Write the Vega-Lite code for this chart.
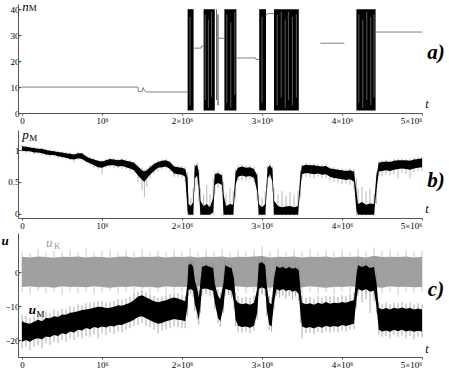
{
"$schema":"https://vega.github.io/schema/vega-lite/v6.json",
"padding":{"left":0,"top":0,"right":0,"bottom":0},
"spacing":3,
"config":{"view":{"stroke":null},"axis":{"labelFont":"Liberation Serif","labelFontSize":9,"labelColor":"#000","domainColor":"#555","tickColor":"#555","grid":false,"labelOverlap":false},
"axisX":{"title":null,"labelExpr":"datum.value==0?'0':(datum.value==1?'10⁶':datum.value+'×10⁶')","tickSize":2,"labelPadding":1,"labelBaseline":"top"},
"axisY":{"title":null,"tickSize":-3,"labelPadding":2,"minExtent":18,"maxExtent":18}},
"datasets":{
"nblock":[
{"t0":2.07,"t1":2.145,"lo":1,"hi":40},
{"t0":2.27,"t1":2.41,"lo":1,"hi":40},
{"t0":2.43,"t1":2.438,"lo":5,"hi":40},{"t0":2.445,"t1":2.455,"lo":3,"hi":38},
{"t0":2.53,"t1":2.68,"lo":1,"hi":40},
{"t0":2.965,"t1":3.05,"lo":1,"hi":40},
{"t0":3.15,"t1":3.46,"lo":1,"hi":40},
{"t0":4.18,"t1":4.42,"lo":1,"hi":40}
],
"nslit":[
{"t":2.1,"lo":3,"hi":37},{"t":2.29,"lo":5,"hi":38},{"t":2.33,"lo":2,"hi":36},{"t":2.37,"lo":6,"hi":39},{"t":2.56,"lo":4,"hi":38},{"t":2.61,"lo":2,"hi":35},{"t":2.66,"lo":7,"hi":39},{"t":3.0,"lo":4,"hi":37},{"t":3.19,"lo":3,"hi":38},{"t":3.24,"lo":6,"hi":39},{"t":3.29,"lo":2,"hi":36},{"t":3.33,"lo":5,"hi":39},{"t":3.38,"lo":3,"hi":37},{"t":3.43,"lo":6,"hi":38},{"t":4.21,"lo":4,"hi":38},{"t":4.26,"lo":2,"hi":36},{"t":4.31,"lo":5,"hi":39},{"t":4.36,"lo":3,"hi":37},{"t":4.4,"lo":6,"hi":38}
],
"nline":[
{"t":0,"n":10,"seg":1},{"t":1.45,"n":10,"seg":1},{"t":1.455,"n":8.3,"seg":1},{"t":1.5,"n":8.3,"seg":1},{"t":1.515,"n":9.8,"seg":1},{"t":1.53,"n":8.6,"seg":1},{"t":1.56,"n":8.1,"seg":1},{"t":2.07,"n":8.1,"seg":1},
{"t":2.145,"n":25,"seg":2},{"t":2.24,"n":25,"seg":2},{"t":2.245,"n":25.8,"seg":2},{"t":2.27,"n":25.8,"seg":2},
{"t":2.455,"n":28.8,"seg":3},{"t":2.53,"n":28.8,"seg":3},
{"t":2.68,"n":21.2,"seg":4},{"t":2.92,"n":21.2,"seg":4},{"t":2.925,"n":20.6,"seg":4},{"t":2.965,"n":20.6,"seg":4},
{"t":3.05,"n":37.5,"seg":5},{"t":3.07,"n":38.3,"seg":5},{"t":3.15,"n":38.3,"seg":5},
{"t":3.73,"n":26.9,"seg":6},{"t":4.03,"n":26.9,"seg":6},
{"t":4.42,"n":31.2,"seg":7},{"t":5.0,"n":31.2,"seg":7}
],
"pb":[
{"t":0,"lo":0.99,"hi":1.06,"glo":0.97,"ghi":1.08},{"t":0.05,"lo":0.98,"hi":1.05,"glo":0.95,"ghi":1.07},{"t":0.1,"lo":0.98,"hi":1.04,"glo":0.96,"ghi":1.06},{"t":0.15,"lo":0.96,"hi":1.03,"glo":0.93,"ghi":1.05},{"t":0.2,"lo":0.96,"hi":1.02,"glo":0.94,"ghi":1.04},{"t":0.25,"lo":0.95,"hi":1.02,"glo":0.92,"ghi":1.03},{"t":0.3,"lo":0.93,"hi":1.0,"glo":0.91,"ghi":1.02},{"t":0.35,"lo":0.92,"hi":0.99,"glo":0.89,"ghi":1.01},{"t":0.4,"lo":0.92,"hi":0.98,"glo":0.9,"ghi":1.0},{"t":0.45,"lo":0.9,"hi":0.97,"glo":0.87,"ghi":0.99},{"t":0.5,"lo":0.89,"hi":0.96,"glo":0.86,"ghi":0.98},{"t":0.55,"lo":0.88,"hi":0.95,"glo":0.86,"ghi":0.97},{"t":0.6,"lo":0.86,"hi":0.94,"glo":0.84,"ghi":0.96},{"t":0.65,"lo":0.85,"hi":0.93,"glo":0.81,"ghi":0.95},{"t":0.7,"lo":0.87,"hi":0.95,"glo":0.84,"ghi":0.97},{"t":0.75,"lo":0.86,"hi":0.95,"glo":0.83,"ghi":0.96},{"t":0.8,"lo":0.82,"hi":0.9,"glo":0.8,"ghi":0.92},{"t":0.85,"lo":0.79,"hi":0.87,"glo":0.76,"ghi":0.89},{"t":0.9,"lo":0.76,"hi":0.85,"glo":0.72,"ghi":0.87},{"t":0.95,"lo":0.73,"hi":0.83,"glo":0.7,"ghi":0.85},{"t":1.0,"lo":0.72,"hi":0.82,"glo":0.62,"ghi":0.84},{"t":1.05,"lo":0.75,"hi":0.84,"glo":0.72,"ghi":0.86},{"t":1.1,"lo":0.76,"hi":0.86,"glo":0.73,"ghi":0.88},{"t":1.15,"lo":0.76,"hi":0.85,"glo":0.72,"ghi":0.87},{"t":1.2,"lo":0.74,"hi":0.84,"glo":0.71,"ghi":0.86},{"t":1.25,"lo":0.75,"hi":0.85,"glo":0.7,"ghi":0.87},{"t":1.3,"lo":0.73,"hi":0.83,"glo":0.7,"ghi":0.85},{"t":1.35,"lo":0.71,"hi":0.82,"glo":0.67,"ghi":0.84},{"t":1.4,"lo":0.68,"hi":0.8,"glo":0.64,"ghi":0.82},{"t":1.45,"lo":0.6,"hi":0.74,"glo":0.5,"ghi":0.77},{"t":1.5,"lo":0.53,"hi":0.68,"glo":0.37,"ghi":0.72},{"t":1.53,"lo":0.5,"hi":0.66,"glo":0.26,"ghi":0.7},{"t":1.56,"lo":0.55,"hi":0.68,"glo":0.42,"ghi":0.72},{"t":1.6,"lo":0.61,"hi":0.73,"glo":0.55,"ghi":0.76},{"t":1.65,"lo":0.67,"hi":0.78,"glo":0.62,"ghi":0.8},{"t":1.7,"lo":0.72,"hi":0.81,"glo":0.66,"ghi":0.84},{"t":1.75,"lo":0.73,"hi":0.83,"glo":0.7,"ghi":0.85},{"t":1.8,"lo":0.74,"hi":0.84,"glo":0.71,"ghi":0.86},{"t":1.85,"lo":0.7,"hi":0.81,"glo":0.66,"ghi":0.83},{"t":1.9,"lo":0.63,"hi":0.74,"glo":0.58,"ghi":0.77},{"t":1.95,"lo":0.62,"hi":0.73,"glo":0.57,"ghi":0.76},{"t":2.0,"lo":0.61,"hi":0.72,"glo":0.56,"ghi":0.75},{"t":2.04,"lo":0.58,"hi":0.7,"glo":0.5,"ghi":0.73},
{"t":2.07,"lo":0.05,"hi":0.55,"glo":0.0,"ghi":0.65},{"t":2.08,"lo":-0.02,"hi":0.15,"glo":-0.03,"ghi":0.3},{"t":2.11,"lo":-0.02,"hi":0.12,"glo":-0.03,"ghi":0.25},{"t":2.14,"lo":-0.02,"hi":0.18,"glo":-0.03,"ghi":0.4},{"t":2.16,"lo":0.55,"hi":0.74,"glo":0.35,"ghi":0.78},{"t":2.19,"lo":0.6,"hi":0.77,"glo":0.45,"ghi":0.8},{"t":2.21,"lo":0.4,"hi":0.65,"glo":0.2,"ghi":0.7},{"t":2.23,"lo":-0.02,"hi":0.2,"glo":-0.03,"ghi":0.4},{"t":2.27,"lo":-0.02,"hi":0.12,"glo":-0.03,"ghi":0.3},{"t":2.31,"lo":-0.02,"hi":0.15,"glo":-0.03,"ghi":0.45},{"t":2.35,"lo":-0.02,"hi":0.1,"glo":-0.03,"ghi":0.3},{"t":2.39,"lo":0.02,"hi":0.25,"glo":-0.03,"ghi":0.55},{"t":2.41,"lo":0.45,"hi":0.62,"glo":0.3,"ghi":0.66},{"t":2.45,"lo":0.48,"hi":0.64,"glo":0.4,"ghi":0.67},{"t":2.5,"lo":0.45,"hi":0.6,"glo":0.35,"ghi":0.64},{"t":2.52,"lo":-0.02,"hi":0.3,"glo":-0.03,"ghi":0.5},{"t":2.55,"lo":-0.02,"hi":0.12,"glo":-0.03,"ghi":0.3},{"t":2.6,"lo":-0.02,"hi":0.15,"glo":-0.03,"ghi":0.4},{"t":2.64,"lo":-0.02,"hi":0.14,"glo":-0.03,"ghi":0.35},{"t":2.67,"lo":0.45,"hi":0.65,"glo":0.25,"ghi":0.7},{"t":2.7,"lo":0.58,"hi":0.72,"glo":0.52,"ghi":0.76},{"t":2.75,"lo":0.6,"hi":0.74,"glo":0.53,"ghi":0.77},{"t":2.8,"lo":0.58,"hi":0.72,"glo":0.52,"ghi":0.75},{"t":2.85,"lo":0.59,"hi":0.73,"glo":0.54,"ghi":0.76},{"t":2.9,"lo":0.56,"hi":0.7,"glo":0.5,"ghi":0.73},{"t":2.94,"lo":0.35,"hi":0.6,"glo":0.2,"ghi":0.65},{"t":2.96,"lo":-0.02,"hi":0.15,"glo":-0.03,"ghi":0.3},{"t":3.0,"lo":-0.02,"hi":0.1,"glo":-0.03,"ghi":0.25},{"t":3.04,"lo":-0.02,"hi":0.15,"glo":-0.03,"ghi":0.35},{"t":3.07,"lo":0.55,"hi":0.72,"glo":0.4,"ghi":0.76},{"t":3.1,"lo":0.62,"hi":0.76,"glo":0.56,"ghi":0.79},{"t":3.13,"lo":0.5,"hi":0.7,"glo":0.35,"ghi":0.74},{"t":3.15,"lo":-0.02,"hi":0.2,"glo":-0.03,"ghi":0.4},{"t":3.2,"lo":-0.02,"hi":0.12,"glo":-0.03,"ghi":0.3},{"t":3.25,"lo":-0.02,"hi":0.1,"glo":-0.03,"ghi":0.35},{"t":3.3,"lo":-0.02,"hi":0.11,"glo":-0.03,"ghi":0.28},{"t":3.35,"lo":-0.02,"hi":0.12,"glo":-0.03,"ghi":0.34},{"t":3.4,"lo":-0.02,"hi":0.1,"glo":-0.03,"ghi":0.3},{"t":3.45,"lo":-0.02,"hi":0.12,"glo":-0.03,"ghi":0.36},{"t":3.48,"lo":0.4,"hi":0.62,"glo":0.25,"ghi":0.68},{"t":3.5,"lo":0.62,"hi":0.75,"glo":0.55,"ghi":0.78},{"t":3.55,"lo":0.64,"hi":0.77,"glo":0.58,"ghi":0.8},{"t":3.6,"lo":0.63,"hi":0.76,"glo":0.57,"ghi":0.79},{"t":3.65,"lo":0.62,"hi":0.76,"glo":0.55,"ghi":0.79},{"t":3.7,"lo":0.63,"hi":0.75,"glo":0.58,"ghi":0.78},{"t":3.75,"lo":0.61,"hi":0.74,"glo":0.55,"ghi":0.77},{"t":3.8,"lo":0.62,"hi":0.75,"glo":0.56,"ghi":0.78},{"t":3.85,"lo":0.58,"hi":0.71,"glo":0.52,"ghi":0.74},{"t":3.9,"lo":0.56,"hi":0.7,"glo":0.5,"ghi":0.73},{"t":3.95,"lo":0.55,"hi":0.69,"glo":0.48,"ghi":0.72},{"t":4.0,"lo":0.54,"hi":0.68,"glo":0.46,"ghi":0.71},{"t":4.05,"lo":0.53,"hi":0.67,"glo":0.47,"ghi":0.7},{"t":4.1,"lo":0.54,"hi":0.68,"glo":0.45,"ghi":0.71},{"t":4.15,"lo":0.5,"hi":0.66,"glo":0.38,"ghi":0.7},{"t":4.18,"lo":0.05,"hi":0.35,"glo":-0.03,"ghi":0.55},{"t":4.2,"lo":-0.02,"hi":0.15,"glo":-0.03,"ghi":0.4},{"t":4.25,"lo":-0.02,"hi":0.18,"glo":-0.03,"ghi":0.42},{"t":4.3,"lo":-0.02,"hi":0.14,"glo":-0.03,"ghi":0.35},{"t":4.35,"lo":-0.02,"hi":0.16,"glo":-0.03,"ghi":0.4},{"t":4.4,"lo":-0.02,"hi":0.15,"glo":-0.03,"ghi":0.3},{"t":4.43,"lo":0.35,"hi":0.6,"glo":0.15,"ghi":0.65},{"t":4.46,"lo":0.66,"hi":0.8,"glo":0.58,"ghi":0.83},{"t":4.5,"lo":0.67,"hi":0.81,"glo":0.6,"ghi":0.84},{"t":4.55,"lo":0.68,"hi":0.82,"glo":0.62,"ghi":0.85},{"t":4.6,"lo":0.67,"hi":0.81,"glo":0.6,"ghi":0.84},{"t":4.65,"lo":0.69,"hi":0.83,"glo":0.62,"ghi":0.86},{"t":4.7,"lo":0.7,"hi":0.84,"glo":0.55,"ghi":0.87},{"t":4.75,"lo":0.71,"hi":0.84,"glo":0.64,"ghi":0.87},{"t":4.8,"lo":0.7,"hi":0.84,"glo":0.62,"ghi":0.86},{"t":4.85,"lo":0.69,"hi":0.83,"glo":0.55,"ghi":0.86},{"t":4.9,"lo":0.71,"hi":0.85,"glo":0.65,"ghi":0.88},{"t":4.95,"lo":0.72,"hi":0.86,"glo":0.66,"ghi":0.89},{"t":5.0,"lo":0.73,"hi":0.87,"glo":0.67,"ghi":0.89}
],
"uk":[
{"t":0,"lo":-4.4,"hi":4.5,"glo":-5.8,"ghi":6.0},{"t":0.1,"lo":-4.2,"hi":4.3,"glo":-6.5,"ghi":5.6},{"t":0.2,"lo":-4.5,"hi":4.6,"glo":-5.6,"ghi":6.8},{"t":0.3,"lo":-4.3,"hi":4.4,"glo":-6.2,"ghi":5.8},{"t":0.4,"lo":-4.6,"hi":4.2,"glo":-5.9,"ghi":6.3},{"t":0.5,"lo":-4.2,"hi":4.5,"glo":-6.8,"ghi":5.7},{"t":0.6,"lo":-4.4,"hi":4.4,"glo":-5.7,"ghi":6.5},{"t":0.7,"lo":-4.3,"hi":4.6,"glo":-6.3,"ghi":5.9},{"t":0.8,"lo":-4.5,"hi":4.3,"glo":-5.8,"ghi":6.9},{"t":0.9,"lo":-4.2,"hi":4.5,"glo":-6.6,"ghi":5.8},{"t":1.0,"lo":-4.4,"hi":4.4,"glo":-6.0,"ghi":6.2},{"t":1.1,"lo":-4.6,"hi":4.2,"glo":-5.6,"ghi":6.6},{"t":1.2,"lo":-4.3,"hi":4.5,"glo":-6.4,"ghi":5.7},{"t":1.3,"lo":-4.4,"hi":4.6,"glo":-5.9,"ghi":6.4},{"t":1.4,"lo":-4.2,"hi":4.3,"glo":-6.9,"ghi":6.0},{"t":1.5,"lo":-4.5,"hi":4.5,"glo":-5.7,"ghi":6.7},{"t":1.6,"lo":-4.3,"hi":4.4,"glo":-6.2,"ghi":5.8},{"t":1.7,"lo":-4.6,"hi":4.6,"glo":-5.8,"ghi":6.3},{"t":1.8,"lo":-4.2,"hi":4.3,"glo":-6.5,"ghi":5.9},{"t":1.9,"lo":-4.4,"hi":4.5,"glo":-5.9,"ghi":6.6},{"t":2.0,"lo":-4.3,"hi":4.4,"glo":-6.1,"ghi":6.1},{"t":2.1,"lo":-4.5,"hi":4.6,"glo":-5.7,"ghi":6.9},{"t":2.2,"lo":-4.2,"hi":4.3,"glo":-6.6,"ghi":5.7},{"t":2.3,"lo":-4.4,"hi":4.5,"glo":-5.8,"ghi":6.5},{"t":2.4,"lo":-4.6,"hi":4.4,"glo":-6.3,"ghi":6.0},{"t":2.5,"lo":-4.3,"hi":4.6,"glo":-5.9,"ghi":6.8},{"t":2.6,"lo":-4.4,"hi":4.3,"glo":-6.7,"ghi":5.8},{"t":2.7,"lo":-4.2,"hi":4.5,"glo":-5.6,"ghi":6.4},{"t":2.8,"lo":-4.5,"hi":4.4,"glo":-6.2,"ghi":6.1},{"t":2.9,"lo":-4.3,"hi":4.6,"glo":-5.9,"ghi":6.6},{"t":3.0,"lo":-4.4,"hi":4.7,"glo":-6.4,"ghi":7.6},{"t":3.1,"lo":-4.6,"hi":4.3,"glo":-5.8,"ghi":6.0},{"t":3.2,"lo":-4.2,"hi":4.5,"glo":-6.5,"ghi":6.7},{"t":3.3,"lo":-4.4,"hi":4.4,"glo":-5.7,"ghi":5.9},{"t":3.4,"lo":-4.3,"hi":4.6,"glo":-6.1,"ghi":6.5},{"t":3.5,"lo":-4.5,"hi":4.3,"glo":-6.8,"ghi":6.0},{"t":3.6,"lo":-4.2,"hi":4.5,"glo":-5.8,"ghi":6.8},{"t":3.7,"lo":-4.4,"hi":4.4,"glo":-6.3,"ghi":5.8},{"t":3.8,"lo":-4.6,"hi":4.6,"glo":-5.9,"ghi":6.4},{"t":3.9,"lo":-4.3,"hi":4.3,"glo":-6.6,"ghi":6.1},{"t":4.0,"lo":-4.4,"hi":4.5,"glo":-5.7,"ghi":6.6},{"t":4.1,"lo":-4.2,"hi":4.4,"glo":-6.2,"ghi":5.9},{"t":4.2,"lo":-4.5,"hi":4.6,"glo":-5.9,"ghi":6.7},{"t":4.3,"lo":-4.3,"hi":4.3,"glo":-6.5,"ghi":6.0},{"t":4.4,"lo":-4.4,"hi":4.8,"glo":-5.8,"ghi":7.2},{"t":4.5,"lo":-4.6,"hi":4.4,"glo":-6.3,"ghi":6.2},{"t":4.6,"lo":-4.2,"hi":4.5,"glo":-5.9,"ghi":6.6},{"t":4.7,"lo":-4.4,"hi":4.4,"glo":-6.7,"ghi":5.8},{"t":4.8,"lo":-4.3,"hi":4.6,"glo":-5.8,"ghi":6.4},{"t":4.9,"lo":-4.5,"hi":4.3,"glo":-6.1,"ghi":6.0},{"t":5.0,"lo":-4.4,"hi":4.5,"glo":-5.9,"ghi":6.3}
],
"um":[
{"t":0,"lo":-20.5,"hi":-14.5,"glo":-22.5,"ghi":-12.5},{"t":0.05,"lo":-20.0,"hi":-15.0,"glo":-22.0,"ghi":-13.0},{"t":0.1,"lo":-20.5,"hi":-15.2,"glo":-23.0,"ghi":-13.5},{"t":0.15,"lo":-19.8,"hi":-14.6,"glo":-22.0,"ghi":-12.8},{"t":0.2,"lo":-19.5,"hi":-14.0,"glo":-21.5,"ghi":-12.0},{"t":0.25,"lo":-19.8,"hi":-14.5,"glo":-22.5,"ghi":-12.5},{"t":0.3,"lo":-19.0,"hi":-13.5,"glo":-21.0,"ghi":-11.8},{"t":0.35,"lo":-19.2,"hi":-13.6,"glo":-21.5,"ghi":-12.0},{"t":0.4,"lo":-18.5,"hi":-13.0,"glo":-20.5,"ghi":-11.0},{"t":0.45,"lo":-18.8,"hi":-13.2,"glo":-21.0,"ghi":-11.5},{"t":0.5,"lo":-18.0,"hi":-12.5,"glo":-20.0,"ghi":-10.8},{"t":0.55,"lo":-18.3,"hi":-12.6,"glo":-20.5,"ghi":-11.0},{"t":0.6,"lo":-17.5,"hi":-12.0,"glo":-19.5,"ghi":-10.0},{"t":0.65,"lo":-17.8,"hi":-11.8,"glo":-20.0,"ghi":-10.2},{"t":0.7,"lo":-17.0,"hi":-11.5,"glo":-19.2,"ghi":-9.5},{"t":0.75,"lo":-17.2,"hi":-11.2,"glo":-19.5,"ghi":-9.8},{"t":0.8,"lo":-16.5,"hi":-11.0,"glo":-18.8,"ghi":-9.2},{"t":0.85,"lo":-16.8,"hi":-10.8,"glo":-19.0,"ghi":-9.0},{"t":0.9,"lo":-16.2,"hi":-10.5,"glo":-18.5,"ghi":-8.8},{"t":0.95,"lo":-16.5,"hi":-10.2,"glo":-19.5,"ghi":-8.5},{"t":1.0,"lo":-16.0,"hi":-10.3,"glo":-18.0,"ghi":-8.6},{"t":1.05,"lo":-16.3,"hi":-10.6,"glo":-18.6,"ghi":-9.0},{"t":1.1,"lo":-15.8,"hi":-10.5,"glo":-17.8,"ghi":-8.8},{"t":1.15,"lo":-16.0,"hi":-10.2,"glo":-18.2,"ghi":-8.5},{"t":1.2,"lo":-15.5,"hi":-9.8,"glo":-17.5,"ghi":-8.0},{"t":1.25,"lo":-15.6,"hi":-9.9,"glo":-17.8,"ghi":-8.2},{"t":1.3,"lo":-15.0,"hi":-9.5,"glo":-17.0,"ghi":-7.8},{"t":1.35,"lo":-14.6,"hi":-9.0,"glo":-16.5,"ghi":-7.2},{"t":1.4,"lo":-14.0,"hi":-8.2,"glo":-16.0,"ghi":-6.5},{"t":1.45,"lo":-13.2,"hi":-7.2,"glo":-15.5,"ghi":-5.8},{"t":1.5,"lo":-13.0,"hi":-6.8,"glo":-15.0,"ghi":-5.5},{"t":1.55,"lo":-13.6,"hi":-7.4,"glo":-15.8,"ghi":-6.0},{"t":1.6,"lo":-14.2,"hi":-8.0,"glo":-16.3,"ghi":-6.5},{"t":1.65,"lo":-14.8,"hi":-8.6,"glo":-17.0,"ghi":-7.0},{"t":1.7,"lo":-15.2,"hi":-8.9,"glo":-18.0,"ghi":-7.5},{"t":1.75,"lo":-15.0,"hi":-8.6,"glo":-17.2,"ghi":-7.2},{"t":1.8,"lo":-14.5,"hi":-8.3,"glo":-16.8,"ghi":-6.8},{"t":1.85,"lo":-14.2,"hi":-7.8,"glo":-16.5,"ghi":-6.5},{"t":1.9,"lo":-13.8,"hi":-7.5,"glo":-16.0,"ghi":-6.0},{"t":1.95,"lo":-14.0,"hi":-7.8,"glo":-16.2,"ghi":-6.3},{"t":2.0,"lo":-14.2,"hi":-8.2,"glo":-16.5,"ghi":-6.8},{"t":2.04,"lo":-14.5,"hi":-8.6,"glo":-16.5,"ghi":-7.0},
{"t":2.07,"lo":-10.0,"hi":-3.0,"glo":-13.0,"ghi":-1.0},{"t":2.08,"lo":-5.3,"hi":2.0,"glo":-7.0,"ghi":3.0},{"t":2.11,"lo":-5.0,"hi":2.5,"glo":-6.5,"ghi":3.5},{"t":2.14,"lo":-5.5,"hi":1.5,"glo":-7.5,"ghi":3.0},{"t":2.16,"lo":-9.5,"hi":-2.5,"glo":-11.5,"ghi":-1.0},{"t":2.19,"lo":-12.0,"hi":-5.0,"glo":-14.0,"ghi":-3.5},{"t":2.21,"lo":-14.0,"hi":-7.5,"glo":-15.5,"ghi":-5.5},{"t":2.23,"lo":-10.0,"hi":-3.0,"glo":-12.0,"ghi":-1.5},{"t":2.25,"lo":-5.0,"hi":1.5,"glo":-7.0,"ghi":3.0},{"t":2.3,"lo":-4.8,"hi":2.0,"glo":-6.5,"ghi":3.5},{"t":2.35,"lo":-5.2,"hi":1.5,"glo":-7.0,"ghi":3.0},{"t":2.39,"lo":-5.5,"hi":1.2,"glo":-7.5,"ghi":2.8},{"t":2.41,"lo":-9.0,"hi":-3.5,"glo":-11.0,"ghi":-1.5},{"t":2.45,"lo":-13.5,"hi":-7.0,"glo":-15.0,"ghi":-5.0},{"t":2.48,"lo":-14.5,"hi":-8.0,"glo":-16.0,"ghi":-6.0},{"t":2.52,"lo":-10.0,"hi":-3.0,"glo":-12.0,"ghi":-1.0},{"t":2.54,"lo":-5.0,"hi":2.0,"glo":-7.0,"ghi":3.5},{"t":2.58,"lo":-5.2,"hi":1.5,"glo":-6.8,"ghi":3.0},{"t":2.62,"lo":-5.5,"hi":1.2,"glo":-7.5,"ghi":2.5},{"t":2.65,"lo":-9.0,"hi":-2.0,"glo":-11.0,"ghi":0.0},{"t":2.67,"lo":-14.0,"hi":-8.0,"glo":-16.0,"ghi":-6.0},{"t":2.7,"lo":-15.8,"hi":-9.0,"glo":-17.5,"ghi":-7.0},{"t":2.75,"lo":-16.2,"hi":-9.5,"glo":-17.8,"ghi":-7.5},{"t":2.8,"lo":-16.0,"hi":-9.2,"glo":-17.5,"ghi":-7.2},{"t":2.85,"lo":-16.4,"hi":-9.6,"glo":-18.0,"ghi":-7.6},{"t":2.9,"lo":-15.8,"hi":-9.0,"glo":-17.2,"ghi":-7.0},{"t":2.94,"lo":-12.0,"hi":-5.0,"glo":-14.0,"ghi":-3.0},{"t":2.96,"lo":-5.0,"hi":2.5,"glo":-7.0,"ghi":4.0},{"t":3.0,"lo":-4.5,"hi":3.0,"glo":-6.5,"ghi":4.5},{"t":3.04,"lo":-5.0,"hi":2.0,"glo":-7.0,"ghi":3.5},{"t":3.06,"lo":-11.0,"hi":-4.0,"glo":-13.0,"ghi":-2.0},{"t":3.09,"lo":-15.5,"hi":-9.0,"glo":-17.0,"ghi":-7.0},{"t":3.12,"lo":-16.0,"hi":-9.5,"glo":-17.5,"ghi":-7.5},{"t":3.15,"lo":-9.0,"hi":-2.0,"glo":-11.0,"ghi":0.0},{"t":3.18,"lo":-5.0,"hi":1.8,"glo":-7.0,"ghi":3.5},{"t":3.22,"lo":-5.5,"hi":1.2,"glo":-7.5,"ghi":3.0},{"t":3.26,"lo":-5.0,"hi":1.6,"glo":-7.0,"ghi":3.2},{"t":3.3,"lo":-5.6,"hi":1.0,"glo":-7.8,"ghi":2.8},{"t":3.34,"lo":-5.2,"hi":1.5,"glo":-7.0,"ghi":3.0},{"t":3.38,"lo":-5.8,"hi":1.0,"glo":-8.0,"ghi":2.5},{"t":3.42,"lo":-5.4,"hi":1.3,"glo":-7.2,"ghi":3.0},{"t":3.46,"lo":-6.5,"hi":0.5,"glo":-8.5,"ghi":2.0},{"t":3.48,"lo":-12.0,"hi":-5.0,"glo":-15.0,"ghi":-3.0},{"t":3.5,"lo":-16.0,"hi":-9.0,"glo":-19.5,"ghi":-7.0},{"t":3.55,"lo":-16.5,"hi":-9.5,"glo":-18.0,"ghi":-7.5},{"t":3.6,"lo":-16.2,"hi":-9.2,"glo":-17.8,"ghi":-7.2},{"t":3.65,"lo":-16.6,"hi":-9.6,"glo":-18.2,"ghi":-7.8},{"t":3.7,"lo":-16.0,"hi":-9.0,"glo":-17.6,"ghi":-7.0},{"t":3.75,"lo":-16.4,"hi":-9.4,"glo":-18.0,"ghi":-7.5},{"t":3.8,"lo":-15.8,"hi":-8.8,"glo":-17.5,"ghi":-7.0},{"t":3.85,"lo":-16.2,"hi":-9.3,"glo":-17.8,"ghi":-7.2},{"t":3.9,"lo":-15.9,"hi":-9.0,"glo":-17.5,"ghi":-7.0},{"t":3.95,"lo":-16.1,"hi":-9.2,"glo":-17.6,"ghi":-7.3},{"t":4.0,"lo":-15.6,"hi":-8.8,"glo":-17.2,"ghi":-6.8},{"t":4.05,"lo":-15.9,"hi":-9.0,"glo":-17.5,"ghi":-7.0},{"t":4.1,"lo":-15.5,"hi":-8.6,"glo":-17.0,"ghi":-6.5},{"t":4.15,"lo":-15.2,"hi":-8.2,"glo":-16.8,"ghi":-6.0},{"t":4.18,"lo":-8.0,"hi":-1.0,"glo":-10.5,"ghi":1.0},{"t":4.2,"lo":-5.0,"hi":2.0,"glo":-7.0,"ghi":3.5},{"t":4.25,"lo":-5.5,"hi":1.5,"glo":-9.0,"ghi":3.0},{"t":4.3,"lo":-5.0,"hi":2.0,"glo":-8.0,"ghi":3.5},{"t":4.35,"lo":-5.8,"hi":1.2,"glo":-12.0,"ghi":2.8},{"t":4.4,"lo":-5.5,"hi":1.5,"glo":-8.5,"ghi":3.0},{"t":4.43,"lo":-10.0,"hi":-3.0,"glo":-12.0,"ghi":0.5},{"t":4.46,"lo":-17.0,"hi":-10.5,"glo":-18.5,"ghi":-9.0},{"t":4.5,"lo":-17.5,"hi":-11.0,"glo":-19.0,"ghi":-9.5},{"t":4.55,"lo":-17.2,"hi":-10.6,"glo":-18.8,"ghi":-9.0},{"t":4.6,"lo":-17.6,"hi":-11.0,"glo":-19.5,"ghi":-9.5},{"t":4.65,"lo":-17.0,"hi":-10.5,"glo":-18.5,"ghi":-9.0},{"t":4.7,"lo":-17.4,"hi":-10.8,"glo":-19.0,"ghi":-9.2},{"t":4.75,"lo":-17.0,"hi":-10.4,"glo":-18.6,"ghi":-8.8},{"t":4.8,"lo":-17.5,"hi":-10.8,"glo":-19.5,"ghi":-9.3},{"t":4.85,"lo":-17.2,"hi":-10.6,"glo":-18.8,"ghi":-9.0},{"t":4.9,"lo":-17.6,"hi":-11.0,"glo":-19.8,"ghi":-9.5},{"t":4.95,"lo":-17.3,"hi":-10.7,"glo":-19.0,"ghi":-9.2},{"t":5.0,"lo":-17.5,"hi":-11.0,"glo":-19.2,"ghi":-9.5}
]
},
"vconcat":[
{"width":404,"height":109,
 "layer":[
  {"data":{"name":"nblock"},"mark":{"type":"rect","color":"#000"},
   "encoding":{
    "x":{"field":"t0","type":"quantitative","scale":{"domain":[-0.05,5],"nice":false,"zero":false},"axis":{"values":[0,1,2,3,4,5]}},
    "x2":{"field":"t1"},
    "y":{"field":"lo","type":"quantitative","scale":{"domain":[0,42],"nice":false,"zero":false},"axis":{"values":[0,10,20,30,40],"tickCount":5}},
    "y2":{"field":"hi"}}},
  {"data":{"name":"nslit"},"mark":{"type":"rule","color":"#9a9a9a","strokeWidth":0.6},
   "encoding":{"x":{"field":"t","type":"quantitative","axis":{"values":[0,1,2,3,4,5]}},"y":{"field":"lo","type":"quantitative","axis":{"values":[0,10,20,30,40],"tickCount":5}},"y2":{"field":"hi"}}},
  {"data":{"name":"nline"},"mark":{"type":"line","color":"#808080","strokeWidth":1},
   "encoding":{
    "x":{"field":"t","type":"quantitative","axis":{"values":[0,1,2,3,4,5]}},
    "y":{"field":"n","type":"quantitative","axis":{"values":[0,10,20,30,40],"tickCount":5}},
    "detail":{"field":"seg"}}},
  {"data":{"values":[{}]},"mark":{"type":"text","text":"n","font":"Liberation Serif","fontSize":13,"fontStyle":"italic","align":"center","baseline":"middle"},
   "encoding":{"x":{"datum":0.045,"axis":{"values":[0,1,2,3,4,5]}},"y":{"datum":41.0,"axis":{"values":[0,10,20,30,40],"tickCount":5}}}},
  {"data":{"values":[{}]},"mark":{"type":"text","text":"M","font":"Liberation Serif","fontSize":9,"align":"center","baseline":"middle"},
   "encoding":{"x":{"datum":0.135,"axis":{"values":[0,1,2,3,4,5]}},"y":{"datum":40.4,"axis":{"values":[0,10,20,30,40],"tickCount":5}}}},
  {"data":{"values":[{}]},"mark":{"type":"text","text":"a)","font":"Liberation Serif","fontSize":21,"fontStyle":"italic","fontWeight":"bold","align":"center","baseline":"middle"},
   "encoding":{"x":{"datum":5.175,"axis":{"values":[0,1,2,3,4,5]}},"y":{"datum":23.1,"axis":{"values":[0,10,20,30,40],"tickCount":5}}}},
  {"data":{"values":[{}]},"mark":{"type":"text","text":"t","font":"Liberation Serif","fontSize":12,"fontStyle":"italic","align":"center","baseline":"bottom"},
   "encoding":{"x":{"datum":5.06,"axis":{"values":[0,1,2,3,4,5]}},"y":{"datum":0.6,"axis":{"values":[0,10,20,30,40],"tickCount":5}}}}
 ]},
{"width":404,"height":88,
 "layer":[
  {"data":{"name":"pb"},"mark":{"type":"rule","color":"#9a9a9a","strokeWidth":0.7},
   "encoding":{
    "x":{"field":"t","type":"quantitative","scale":{"domain":[-0.05,5],"nice":false,"zero":false},"axis":{"values":[0,1,2,3,4,5]}},
    "y":{"field":"glo","type":"quantitative","scale":{"domain":[-0.07,1.315],"nice":false,"zero":false},"axis":{"values":[0,0.5,1],"labelExpr":"datum.value"}},
    "y2":{"field":"ghi"}}},
  {"data":{"name":"pb"},"mark":{"type":"area","color":"#000"},
   "encoding":{
    "x":{"field":"t","type":"quantitative","axis":{"values":[0,1,2,3,4,5]}},
    "y":{"field":"lo","type":"quantitative","axis":{"values":[0,0.5,1],"labelExpr":"datum.value"}},
    "y2":{"field":"hi"}}},
  {"data":{"values":[{}]},"mark":{"type":"text","text":"p","font":"Liberation Serif","fontSize":13,"fontStyle":"italic","align":"center","baseline":"middle"},
   "encoding":{"x":{"datum":0.045,"axis":{"values":[0,1,2,3,4,5]}},"y":{"datum":1.24,"axis":{"values":[0,0.5,1],"labelExpr":"datum.value"}}}},
  {"data":{"values":[{}]},"mark":{"type":"text","text":"M","font":"Liberation Serif","fontSize":9,"align":"center","baseline":"middle"},
   "encoding":{"x":{"datum":0.14,"axis":{"values":[0,1,2,3,4,5]}},"y":{"datum":1.19,"axis":{"values":[0,0.5,1],"labelExpr":"datum.value"}}}},
  {"data":{"values":[{}]},"mark":{"type":"text","text":"b)","font":"Liberation Serif","fontSize":21,"fontStyle":"italic","fontWeight":"bold","align":"center","baseline":"middle"},
   "encoding":{"x":{"datum":5.175,"axis":{"values":[0,1,2,3,4,5]}},"y":{"datum":0.51,"axis":{"values":[0,0.5,1],"labelExpr":"datum.value"}}}},
  {"data":{"values":[{}]},"mark":{"type":"text","text":"t","font":"Liberation Serif","fontSize":12,"fontStyle":"italic","align":"center","baseline":"bottom"},
   "encoding":{"x":{"datum":5.06,"axis":{"values":[0,1,2,3,4,5]}},"y":{"datum":-0.04,"axis":{"values":[0,0.5,1],"labelExpr":"datum.value"}}}}
 ]},
{"width":404,"height":124,
 "layer":[
  {"data":{"name":"uk"},"mark":{"type":"rule","color":"#b4b4b4","strokeWidth":0.7},
   "encoding":{
    "x":{"field":"t","type":"quantitative","scale":{"domain":[-0.05,5],"nice":false,"zero":false},"axis":{"values":[0,1,2,3,4,5]}},
    "y":{"field":"glo","type":"quantitative","scale":{"domain":[-25,11.5],"nice":false,"zero":false},"axis":{"values":[-20,-10,0],"format":"d"}},
    "y2":{"field":"ghi"}}},
  {"data":{"name":"uk"},"mark":{"type":"area","color":"#a0a0a0"},
   "encoding":{
    "x":{"field":"t","type":"quantitative","axis":{"values":[0,1,2,3,4,5]}},
    "y":{"field":"lo","type":"quantitative","axis":{"values":[-20,-10,0],"format":"d"}},
    "y2":{"field":"hi"}}},
  {"data":{"name":"um"},"mark":{"type":"rule","color":"#888","strokeWidth":0.7},
   "encoding":{
    "x":{"field":"t","type":"quantitative","axis":{"values":[0,1,2,3,4,5]}},
    "y":{"field":"glo","type":"quantitative","axis":{"values":[-20,-10,0],"format":"d"}},
    "y2":{"field":"ghi"}}},
  {"data":{"name":"um"},"mark":{"type":"area","color":"#000"},
   "encoding":{
    "x":{"field":"t","type":"quantitative","axis":{"values":[0,1,2,3,4,5]}},
    "y":{"field":"lo","type":"quantitative","axis":{"values":[-20,-10,0],"format":"d"}},
    "y2":{"field":"hi"}}},
  {"data":{"values":[{}]},"mark":{"type":"text","text":"u","font":"Liberation Serif","fontSize":13,"fontStyle":"italic","fontWeight":"bold","align":"center","baseline":"middle"},
   "encoding":{"x":{"datum":-0.21,"axis":{"values":[0,1,2,3,4,5]}},"y":{"datum":9.0,"axis":{"values":[-20,-10,0],"format":"d"}}}},
  {"data":{"values":[{}]},"mark":{"type":"text","text":"u","font":"Liberation Serif","fontSize":13,"fontStyle":"italic","color":"#999","align":"center","baseline":"middle"},
   "encoding":{"x":{"datum":0.34,"axis":{"values":[0,1,2,3,4,5]}},"y":{"datum":8.5,"axis":{"values":[-20,-10,0],"format":"d"}}}},
  {"data":{"values":[{}]},"mark":{"type":"text","text":"K","font":"Liberation Serif","fontSize":9,"color":"#999","align":"center","baseline":"middle"},
   "encoding":{"x":{"datum":0.44,"axis":{"values":[0,1,2,3,4,5]}},"y":{"datum":7.6,"axis":{"values":[-20,-10,0],"format":"d"}}}},
  {"data":{"values":[{}]},"mark":{"type":"text","text":"u","font":"Liberation Serif","fontSize":13,"fontStyle":"italic","fontWeight":"bold","align":"center","baseline":"middle"},
   "encoding":{"x":{"datum":0.13,"axis":{"values":[0,1,2,3,4,5]}},"y":{"datum":-11.2,"axis":{"values":[-20,-10,0],"format":"d"}}}},
  {"data":{"values":[{}]},"mark":{"type":"text","text":"M","font":"Liberation Serif","fontSize":9,"align":"center","baseline":"middle"},
   "encoding":{"x":{"datum":0.23,"axis":{"values":[0,1,2,3,4,5]}},"y":{"datum":-12.2,"axis":{"values":[-20,-10,0],"format":"d"}}}},
  {"data":{"values":[{}]},"mark":{"type":"text","text":"c)","font":"Liberation Serif","fontSize":21,"fontStyle":"italic","fontWeight":"bold","align":"center","baseline":"middle"},
   "encoding":{"x":{"datum":5.175,"axis":{"values":[0,1,2,3,4,5]}},"y":{"datum":-5.3,"axis":{"values":[-20,-10,0],"format":"d"}}}},
  {"data":{"values":[{}]},"mark":{"type":"text","text":"t","font":"Liberation Serif","fontSize":12,"fontStyle":"italic","align":"center","baseline":"bottom"},
   "encoding":{"x":{"datum":5.06,"axis":{"values":[0,1,2,3,4,5]}},"y":{"datum":-24.6,"axis":{"values":[-20,-10,0],"format":"d"}}}}
 ]}
]
}
